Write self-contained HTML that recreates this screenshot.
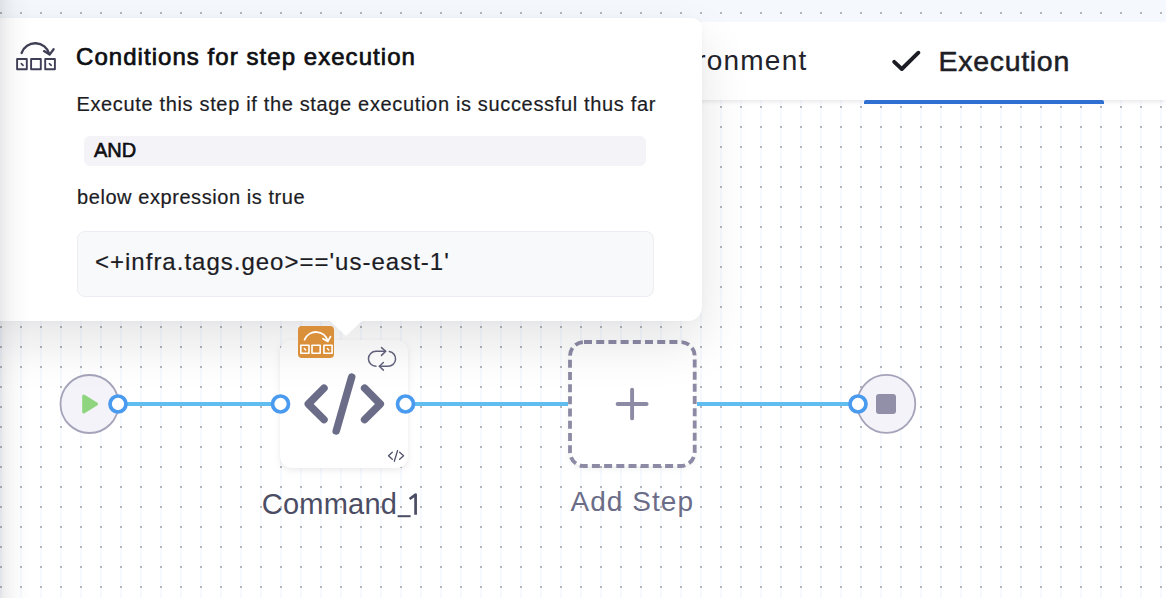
<!DOCTYPE html>
<html><head><meta charset="utf-8">
<style>
*{box-sizing:border-box;margin:0;padding:0}
html,body{width:1166px;height:598px;overflow:hidden;background:#fff}
body{position:relative;font-family:"Liberation Sans",sans-serif}
.t{position:absolute;white-space:pre;line-height:1}
#top{position:absolute;left:0;top:0;width:1166px;height:22px;background:#f5f9fd}
#hdr{position:absolute;left:0;top:22px;width:1166px;height:78px;background:#fff;box-shadow:0 3px 4px -1px rgba(0,0,0,0.09)}
#uline{position:absolute;left:864px;top:100px;width:240px;height:4px;background:#2f6fd1;border-radius:2px 2px 0 0}
#canvas{position:absolute;left:0;top:100px;width:1166px;height:498px}
#pop{position:absolute;left:-20px;top:18px;width:722px;height:303px;background:#fff;border-radius:10px 10px 14px 14px;box-shadow:0 22px 50px rgba(20,20,40,0.11),0 0 6px rgba(20,20,40,0.03)}
#popfade{position:absolute;left:0;top:0;width:32px;height:598px;background:linear-gradient(to right,rgba(10,10,30,0.095),rgba(10,10,30,0.05) 7px,rgba(10,10,30,0.02) 16px,rgba(10,10,30,0) 32px)}
#andbox{position:absolute;left:84px;top:136px;width:562px;height:30px;background:#f3f3f8;border-radius:6px}
#exprbox{position:absolute;left:76.5px;top:231px;width:577px;height:66px;background:#f8f9fb;border:1px solid #ececf2;border-radius:8px}
</style></head>
<body>
<svg id="canvas" width="1166" height="498" viewBox="0 100 1166 498">
<defs><pattern id="pg" x="0" y="0" width="20" height="20" patternUnits="userSpaceOnUse">
<rect x="0" y="0" width="2" height="20" fill="#f6fafe"/>
<rect x="0" y="6" width="2" height="2" fill="#b3b5b9"/></pattern></defs>
<rect x="0" y="100" width="1166" height="498" fill="url(#pg)"/>
<!-- lines -->
<rect x="118" y="402" width="162" height="4" fill="#60bdf0"/>
<rect x="406" y="402" width="162" height="4" fill="#60bdf0"/>
<rect x="697" y="402" width="161" height="4" fill="#60bdf0"/>
<!-- start node -->
<circle cx="89.5" cy="404" r="29" fill="#f3f3f9" stroke="#a4a3b9" stroke-width="1.8"/>
<path d="M82.2 396.6 Q82.2 393.4 85 395.1 L97 402.4 Q99.2 404 97 405.6 L85 412.9 Q82.2 414.6 82.2 411.4 Z" fill="#8fd47e"/>
<!-- end node -->
<circle cx="886.3" cy="403.8" r="29" fill="#f3f3f9" stroke="#a4a3b9" stroke-width="1.8"/>
<rect x="876" y="394" width="20" height="20" rx="3" fill="#9190a8"/>
<!-- command card -->
<rect x="280" y="340" width="128" height="128" rx="12" fill="#fff" style="filter:drop-shadow(0 2px 3px rgba(96,97,112,0.14))"/>
<!-- add step box -->
<rect x="570" y="342" width="124.7" height="124" rx="14" fill="#fff" style="filter:drop-shadow(0 2px 3px rgba(96,97,112,0.13))"/>
<rect x="570" y="342" width="124.7" height="124" rx="14" fill="none" stroke="#8c8aa4" stroke-width="3.8" stroke-dasharray="8 4.2"/>
<path d="M617.6 404 H646.6 M632.1 389.6 V418.4" stroke="#8c8aa4" stroke-width="3.9" stroke-linecap="round"/>
<!-- ports -->
<circle cx="118" cy="404" r="8" fill="#fff" stroke="#4a9bef" stroke-width="3.7"/>
<circle cx="280.5" cy="404" r="8" fill="#fff" stroke="#4a9bef" stroke-width="3.7"/>
<circle cx="405.5" cy="404" r="8" fill="#fff" stroke="#4a9bef" stroke-width="3.7"/>
<circle cx="858" cy="404" r="8" fill="#fff" stroke="#4a9bef" stroke-width="3.7"/>
<!-- code icon -->
<g fill="none" stroke="#6b6d88" stroke-width="7.5" stroke-linecap="round" stroke-linejoin="round">
<path d="M324 388.2 L308.3 404 L324 419.6"/>
<path d="M351.7 377 L336.2 431"/>
<path d="M364.6 388.2 L380.3 404 L364.6 419.6"/>
</g>
<!-- loop icon -->
<g fill="none" stroke="#62637c" stroke-width="1.5" stroke-linecap="round" stroke-linejoin="round">
<path d="M385.5 351.2 H376 A7.5 7.5 0 0 0 376 366.3"/>
<path d="M381.5 347.6 L385.7 351.2 L381.5 355.4"/>
<path d="M389.3 351.4 A7.5 7.5 0 0 1 388 366.3 H379.5"/>
<path d="M383.4 362.5 L379.3 366.3 L383.4 370.1"/>
</g>
<!-- small code icon -->
<g fill="none" stroke="#50526e" stroke-width="1.3" stroke-linecap="round" stroke-linejoin="round">
<path d="M392.3 452.3 L388.5 455.8 L392.3 459.3"/>
<path d="M397.6 450.5 L394.3 461.3"/>
<path d="M399.6 452.3 L403.6 455.8 L399.6 459.3"/>
</g>

</svg>
<div id="top">
<svg width="1166" height="22" style="position:absolute;left:0;top:0">
<defs><pattern id="pt" x="0" y="0" width="20" height="20" patternUnits="userSpaceOnUse"><rect x="0" y="12" width="2" height="2" fill="#b3b5b9"/></pattern></defs>
<rect width="1166" height="22" fill="url(#pt)"/>
</svg>
</div>
<div id="hdr"></div>
<div class="t" style="left:637px;top:47px;font-size:28px;letter-spacing:1.2px;color:#22222a">Environment</div>
<svg style="position:absolute;left:888px;top:48px" width="36" height="28"><path d="M6.2 13.9 L13.8 21 L30.4 4.7" fill="none" stroke="#1c1c24" stroke-width="3.9" stroke-linecap="round" stroke-linejoin="round"/></svg>
<div class="t" style="left:938.5px;top:47.3px;font-size:28.5px;letter-spacing:0.7px;-webkit-text-stroke:0.55px #1e1e26;color:#1e1e26">Execution</div>


<div id="uline"></div>
<div class="t" style="left:261.7px;top:490.3px;font-size:29px;letter-spacing:0.25px;color:#4b4d64">Command</div>
<svg style="position:absolute;left:395px;top:490px" width="26" height="30" viewBox="395 490 26 30"><rect x="397.6" y="515.2" width="13" height="2" fill="#4b4d64"/><path d="M415.6 514.7 V494.6 L409.6 499" fill="none" stroke="#4b4d64" stroke-width="2.7" stroke-linejoin="round"/></svg>
<div class="t" style="left:570.5px;top:488px;font-size:28px;letter-spacing:1.05px;color:#6b6d88">Add Step</div>

<!-- popover -->
<div id="pop"></div>
<svg style="position:absolute;left:326px;top:320px" width="40" height="20"><path d="M4 1 L20 16 L36 1 Z" fill="#fff"/></svg>
<svg style="position:absolute;left:0;top:0" width="1166" height="598"><!-- orange badge -->
<rect x="298" y="326" width="36" height="32" rx="4" fill="#da8f3b"/>
<g fill="none" stroke="#fff" stroke-width="1.6" stroke-linejoin="round">
<rect x="300.8" y="345.2" width="8.2" height="8"/>
<rect x="312" y="345.2" width="8.2" height="8"/>
<rect x="323.9" y="345.2" width="8.2" height="8"/>
<path d="M304.6 339.6 A12.3 12.3 0 0 1 327.8 341" stroke-width="1.8" stroke-linecap="round"/>
<path d="M323 338.8 L327.8 341.4 L330.5 336.6" stroke-width="1.8" stroke-linecap="round"/>
<path d="M304.3 348.6 L305.7 350 M327.4 348.6 L328.8 350" stroke-width="1.4" stroke-linecap="round"/>
</g></svg>
<svg style="position:absolute;left:14px;top:40px" width="46" height="34" viewBox="14 40 46 34">
<g fill="none" stroke="#3e3f55" stroke-width="1.9" stroke-linejoin="round">
<rect x="17.1" y="59" width="9.7" height="10.2"/>
<rect x="31.1" y="59" width="9.7" height="10.2"/>
<rect x="45.2" y="59" width="9.7" height="10.2"/>
<path d="M21.6 53 A14.5 14.5 0 0 1 49.3 54" stroke-width="2.3" stroke-linecap="round"/>
<path d="M44 51.1 L49.6 54.6 L53.6 49.2" stroke-width="2.3" stroke-linecap="round"/>
<path d="M21.3 63.7 L23.1 65.3 M49.4 63.7 L51.2 65.3" stroke-width="1.7" stroke-linecap="round"/>
</g>
</svg>
<div class="t" style="left:76px;top:45px;font-size:24px;letter-spacing:1.05px;-webkit-text-stroke:0.7px #0e0e12;color:#0e0e12">Conditions for step execution</div>
<div class="t" style="left:76.4px;top:93.5px;font-size:20px;letter-spacing:0.66px;-webkit-text-stroke:0.2px #1c1c24;color:#1c1c24">Execute this step if the stage execution is successful thus far</div>
<div id="andbox"></div>
<div class="t" style="left:94px;top:140px;font-size:20px;-webkit-text-stroke:0.6px #0e0e12;color:#0e0e12">AND</div>
<div class="t" style="left:77px;top:187px;font-size:20px;letter-spacing:0.57px;-webkit-text-stroke:0.2px #1c1c24;color:#1c1c24">below expression is true</div>
<div id="exprbox"></div>
<div class="t" style="left:95px;top:250px;font-size:24px;letter-spacing:1px;-webkit-text-stroke:0.2px #1c1c24;color:#1c1c24">&lt;+infra.tags.geo&gt;=='us-east-1'</div>
<div id="popfade"></div>
</body></html>
